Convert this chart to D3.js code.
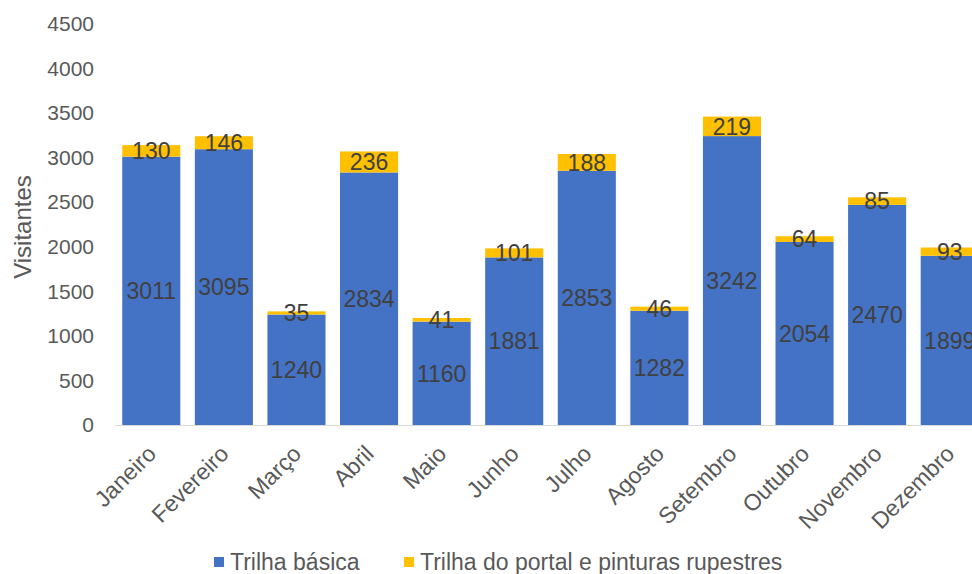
<!DOCTYPE html>
<html>
<head>
<meta charset="utf-8">
<script src="https://cdn.jsdelivr.net/npm/d3@7"></script>
<style>
body { margin: 0; background: #fff; }
svg text { font-family: "Liberation Sans", Arial, sans-serif; }
</style>
</head>
<body>
<div id="chart"></div>
<script>
// month names, visitors per trail
var months = ["Janeiro", "Fevereiro", "Março", "Abril", "Maio", "Junho",
  "Julho", "Agosto", "Setembro", "Outubro", "Novembro", "Dezembro"];
var basica = [3011, 3095, 1240, 2834, 1160, 1881, 2853, 1282, 3242, 2054, 2470, 1899];
var portal = [130, 146, 35, 236, 41, 101, 188, 46, 219, 64, 85, 93];
var seriesNames = ["Trilha básica", "Trilha do portal e pinturas rupestres"];
var colors = ["#4472C4", "#FFC000"];
var yTicks = [0, 500, 1000, 1500, 2000, 2500, 3000, 3500, 4000, 4500];

var width = 972, height = 574;

var svg = d3.select("#chart").append("svg")
  .attr("width", width)
  .attr("height", height);

var x = d3.scaleBand()
  .domain(months)
  .range([115, 986])
  .paddingInner(0.2)
  .paddingOuter(0.1);

var y = d3.scaleLinear()
  .domain([0, 4500])
  .range([425, 24]);

// stack the two series
var rows = months.map(function(m, i) {
  return {month: m, basica: basica[i], portal: portal[i]};
});
var stack = d3.stack().keys(["basica", "portal"]);
var layers = stack(rows);

// y axis labels (no line, no ticks)
var yAxis = svg.append("g")
  .attr("transform", "translate(94,0)")
  .call(d3.axisLeft(y).tickValues(yTicks).tickSize(0).tickPadding(0).tickFormat(d3.format("d")));
yAxis.select(".domain").remove();
yAxis.selectAll("text")
  .style("font-size", "21px")
  .style("fill", "#595959");

svg.append("text")
  .attr("transform", "translate(31,227) rotate(-90)")
  .attr("text-anchor", "middle")
  .style("font-size", "24px")
  .style("fill", "#595959")
  .text("Visitantes");

// bars
var layer = svg.selectAll(".layer")
  .data(layers)
  .enter().append("g")
  .attr("class", "layer")
  .attr("fill", function(d, i) { return colors[i]; });

layer.selectAll("rect")
  .data(function(d) { return d; })
  .enter().append("rect")
  .attr("x", function(d) { return x(d.data.month); })
  .attr("width", x.bandwidth())
  .attr("y", function(d) { return y(d[1]); })
  .attr("height", function(d) { return y(d[0]) - y(d[1]); });

// x axis baseline
svg.append("line")
  .attr("x1", 115).attr("x2", width)
  .attr("y1", y(0) + 0.5).attr("y2", y(0) + 0.5)
  .attr("stroke", "#d9d9d9")
  .attr("stroke-width", 1);

// data labels centred in each segment
layer.selectAll(".lbl")
  .data(function(d) { return d; })
  .enter().append("text")
  .attr("class", "lbl")
  .attr("x", function(d) { return x(d.data.month) + x.bandwidth() / 2; })
  .attr("y", function(d) { return (y(d[0]) + y(d[1])) / 2; })
  .attr("dy", "0.36em")
  .attr("text-anchor", "middle")
  .style("font-size", "23px")
  .style("fill", "#404040")
  .text(function(d) { return d[1] - d[0]; });

// month labels rotated
svg.selectAll(".mlabel")
  .data(months)
  .enter().append("text")
  .attr("class", "mlabel")
  .attr("transform", function(m) {
    return "translate(" + (x(m) + x.bandwidth() / 2 - 6) + ",443) rotate(-45)";
  })
  .attr("text-anchor", "end")
  .attr("dy", "0.75em")
  .style("font-size", "23px")
  .style("fill", "#595959")
  .text(function(m) { return m; });

// legend
var legendX = [214, 404];
var legend = svg.selectAll(".legend")
  .data(seriesNames)
  .enter().append("g")
  .attr("class", "legend")
  .attr("transform", function(d, i) { return "translate(" + legendX[i] + ",557)"; });
legend.append("rect")
  .attr("width", 10).attr("height", 10)
  .attr("fill", function(d, i) { return colors[i]; });
legend.append("text")
  .attr("x", 16)
  .attr("y", 13)
  .style("font-size", "23px")
  .style("fill", "#595959")
  .text(function(d) { return d; });
</script>
</body>
</html>
